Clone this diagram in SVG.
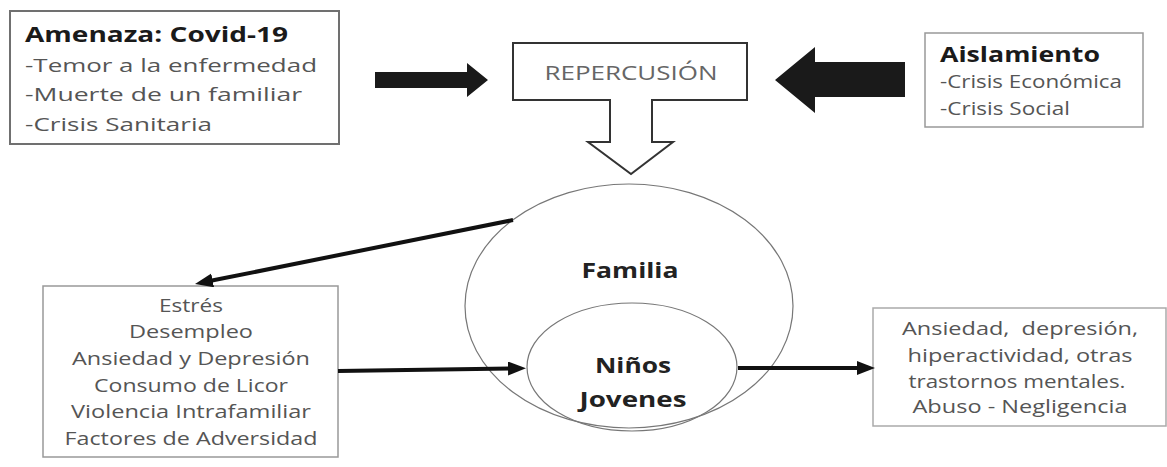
<svg xmlns="http://www.w3.org/2000/svg" width="1167" height="467" viewBox="0 0 1167 467">
<style>
  text { font-family: "Open Sans", "Liberation Sans", sans-serif; }
  .h { font-weight: bold; font-size: 22px; fill: #1a1a1a; }
  .it { font-size: 18px; fill: #555; }
  .c { text-anchor: middle; }
  .big { font-weight: bold; font-size: 22px; fill: #222; text-anchor: middle; }
  .blk { fill: #1a1a1a; }
  .conn { stroke: #111; stroke-width: 4; fill: none; }
  .ell { fill: none; stroke: #777; stroke-width: 1.2; }
</style>
<defs>
  <marker id="ah" markerUnits="userSpaceOnUse" markerWidth="20" markerHeight="16" refX="2" refY="7" orient="auto">
    <path d="M0,0 L18,7 L0,14 z" fill="#111"/>
  </marker>
</defs>
<rect width="1167" height="467" fill="#fff"/>

<g id="amenaza">
  <rect x="10" y="11" width="329" height="133" fill="#fff" stroke="#707070" stroke-width="2"/>
  <text class="h" x="25" y="42" textLength="263" lengthAdjust="spacingAndGlyphs">Amenaza: Covid-19</text>
  <text class="it" x="25" y="72" font-size="19" textLength="292" lengthAdjust="spacingAndGlyphs">-Temor a la enfermedad</text>
  <text class="it" x="25" y="101" font-size="19" textLength="277" lengthAdjust="spacingAndGlyphs">-Muerte de un familiar</text>
  <text class="it" x="25" y="131" font-size="19" textLength="187" lengthAdjust="spacingAndGlyphs">-Crisis Sanitaria</text>
</g>

<g id="flecha-derecha">
  <polygon class="blk" points="375,72 467,72 467,63 488,80 467,97 467,88 375,88"/>
</g>

<g id="repercusion">
  <path d="M513,43 L747,43 L747,100 L652,100 L652,142 L673,142 L631,174 L588,142 L610,142 L610,100 L513,100 Z" fill="#fff" stroke="#333" stroke-width="2"/>
  <text x="631" y="80" font-size="20" fill="#666" text-anchor="middle" textLength="173" lengthAdjust="spacingAndGlyphs">REPERCUSIÓN</text>
</g>

<g id="flecha-izquierda">
  <polygon class="blk" points="905,62 815,62 815,47 775,80 815,113 815,97 905,97"/>
</g>

<g id="aislamiento">
  <rect x="925" y="33" width="218" height="94" fill="#fff" stroke="#999" stroke-width="1.5"/>
  <text class="h" x="940" y="62" textLength="160" lengthAdjust="spacingAndGlyphs">Aislamiento</text>
  <text class="it" x="940" y="88" font-size="17" textLength="182" lengthAdjust="spacingAndGlyphs">-Crisis Económica</text>
  <text class="it" x="940" y="115" font-size="17" textLength="130" lengthAdjust="spacingAndGlyphs">-Crisis Social</text>
</g>

<g id="familia">
  <ellipse class="ell" cx="629" cy="306" rx="164" ry="122"/>
  <text class="big" x="630" y="278" textLength="97" lengthAdjust="spacingAndGlyphs">Familia</text>
</g>

<g id="ninos-jovenes">
  <ellipse class="ell" cx="632" cy="367" rx="105" ry="64" fill="#fff"/>
  <text class="big" x="633" y="373" textLength="76" lengthAdjust="spacingAndGlyphs">Niños</text>
  <text class="big" x="633" y="407" textLength="107" lengthAdjust="spacingAndGlyphs">Jovenes</text>
</g>

<g id="factores">
  <rect x="43" y="286" width="295" height="171" fill="#fff" stroke="#999" stroke-width="1.5"/>
  <g class="it c">
    <text x="191" y="312" textLength="64" lengthAdjust="spacingAndGlyphs">Estrés</text>
    <text x="191" y="338" textLength="124" lengthAdjust="spacingAndGlyphs">Desempleo</text>
    <text x="191" y="365" textLength="238" lengthAdjust="spacingAndGlyphs">Ansiedad y Depresión</text>
    <text x="191" y="392" textLength="194" lengthAdjust="spacingAndGlyphs">Consumo de Licor</text>
    <text x="191" y="418" textLength="240" lengthAdjust="spacingAndGlyphs">Violencia Intrafamiliar</text>
    <text x="191" y="445" textLength="253" lengthAdjust="spacingAndGlyphs">Factores de Adversidad</text>
  </g>
</g>

<g id="consecuencias">
  <rect x="873" y="308" width="293" height="118" fill="#fff" stroke="#aaa" stroke-width="1.5"/>
  <g class="it c">
    <text x="1020" y="335" xml:space="preserve" style="white-space:pre" textLength="236" lengthAdjust="spacingAndGlyphs">Ansiedad,  depresión,</text>
    <text x="1020" y="362" textLength="225" lengthAdjust="spacingAndGlyphs">hiperactividad, otras</text>
    <text x="1017" y="388" textLength="217" lengthAdjust="spacingAndGlyphs">trastornos mentales.</text>
    <text x="1020" y="413" textLength="215" lengthAdjust="spacingAndGlyphs">Abuso - Negligencia</text>
  </g>
</g>

<g id="connectors">
  <line class="conn" x1="513" y1="220" x2="210.7" y2="280.8" marker-end="url(#ah)"/>
  <line class="conn" x1="338" y1="371" x2="510" y2="368.5" marker-end="url(#ah)"/>
  <line class="conn" x1="738" y1="368" x2="859" y2="368" marker-end="url(#ah)"/>
</g>
</svg>
